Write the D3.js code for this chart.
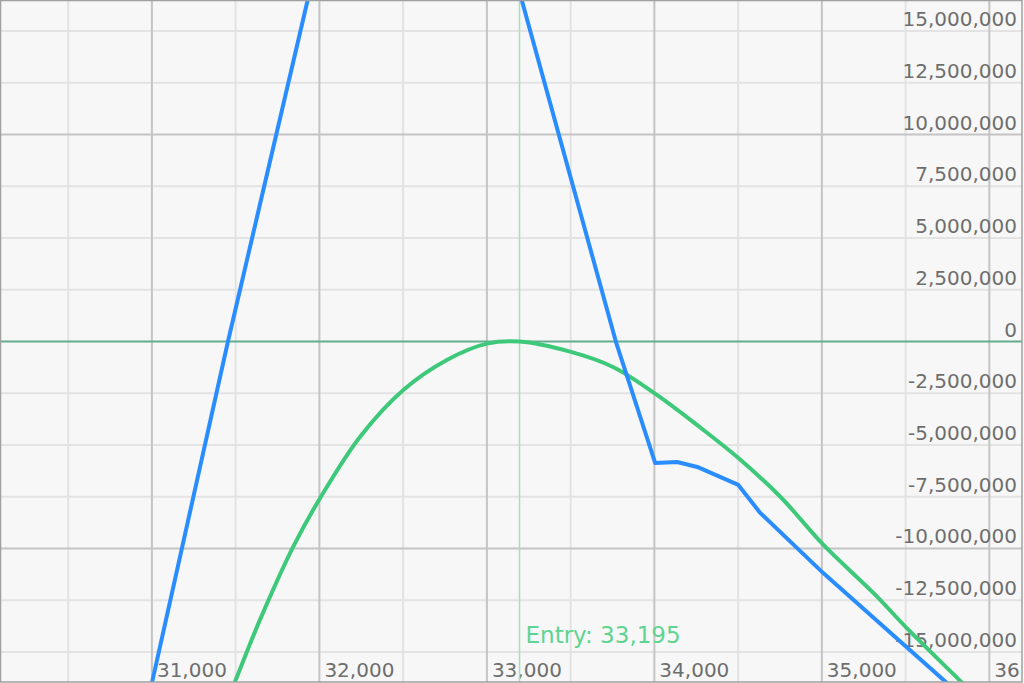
<!DOCTYPE html>
<html>
<head>
<meta charset="utf-8">
<script src="https://cdn.jsdelivr.net/npm/d3@7/dist/d3.min.js"></script>
<style>
  html, body { margin: 0; padding: 0; background: #f7f7f7; }
  svg { display: block; }
</style>
</head>
<body>
<svg id="chart" width="1024" height="683"></svg>
<script>
// ---- data ----
const xTickValues = [31000, 32000, 33000, 34000, 35000, 36000];
const xTickLabels = ["31,000", "32,000", "33,000", "34,000", "35,000", "36"];
const xMinorValues = [30500, 31500, 32500, 33500, 34500, 35500];
const yTickValues = [15000000, 12500000, 10000000, 7500000, 5000000, 2500000, 0,
  -2500000, -5000000, -7500000, -10000000, -12500000, -15000000];
const yTickLabels = ["15,000,000", "12,500,000", "10,000,000", "7,500,000", "5,000,000",
  "2,500,000", "0", "-2,500,000", "-5,000,000", "-7,500,000", "-10,000,000",
  "-12,500,000", "-15,000,000"];
const yMajorValues = [10000000, -10000000];

// expiry P&L (blue)
const expiryX = [30900, 31000, 31454, 31930, 32460, 33208, 33770, 34005, 34136, 34256, 34501, 34632, 35010, 35747, 36100];
const expiryY = [-20200000, -16500000, 0, 16500000, 36000000, 16500000, 0, -5870000, -5820000, -6060000, -6930000, -8280000, -11200000, -16500000, -19000000];

// current P&L (green)
const currentX = [31400, 31496, 31645, 31844, 32004, 32243, 32501, 32761, 33000, 33195, 33497, 33756, 34015, 34254, 34493, 34752, 35010, 35309, 35509, 35839, 36100];
const currentY = [-18300000, -16430000, -13450000, -9910000, -7570000, -4600000, -2340000, -890000, -100000, 0, -490000, -1240000, -2580000, -4030000, -5570000, -7500000, -9830000, -12160000, -13860000, -16500000, -18600000];

const entryPrice = 33195;
const entryLabel = "Entry: 33,195";

// ---- chart ----
const W = 1022, H = 682;
const svg = d3.select("#chart");
const x = d3.scaleLinear().domain([30093, 36195]).range([0, W]);
const y = d3.scaleLinear().domain([-16450000, 16500000]).range([H, 0]);

svg.append("defs").append("clipPath").attr("id", "clip")
  .append("rect").attr("x", 0).attr("y", 0).attr("width", W).attr("height", H);

const g = svg.append("g").attr("clip-path", "url(#clip)");

g.append("rect").attr("x", 0).attr("y", 0).attr("width", W).attr("height", H).attr("fill", "#f7f7f7");

// minor grid
g.selectAll(".vminor").data(xMinorValues).enter().append("line")
  .attr("x1", d => x(d)).attr("x2", d => x(d)).attr("y1", 0).attr("y2", H)
  .attr("stroke", "#e3e3e3").attr("stroke-width", 2);
g.selectAll(".hminor").data(yTickValues.filter(v => v !== 0 && !yMajorValues.includes(v))).enter().append("line")
  .attr("x1", 0).attr("x2", W).attr("y1", d => y(d)).attr("y2", d => y(d))
  .attr("stroke", "#e3e3e3").attr("stroke-width", 2);
// major grid
g.selectAll(".vmajor").data(xTickValues).enter().append("line")
  .attr("x1", d => x(d)).attr("x2", d => x(d)).attr("y1", 0).attr("y2", H)
  .attr("stroke", "#c4c4c4").attr("stroke-width", 2);
g.selectAll(".hmajor").data(yMajorValues).enter().append("line")
  .attr("x1", 0).attr("x2", W).attr("y1", d => y(d)).attr("y2", d => y(d))
  .attr("stroke", "#c4c4c4").attr("stroke-width", 2);

// y labels
const fontFam = "'DejaVu Sans', Verdana, sans-serif";
g.selectAll(".ylab").data(yTickValues).enter().append("text")
  .attr("x", 1017).attr("y", d => y(d) - 5)
  .attr("text-anchor", "end")
  .attr("font-family", fontFam).attr("font-size", 20)
  .attr("fill", "#6e6e6e")
  .text((d, i) => yTickLabels[i]);

// x labels
g.selectAll(".xlab").data(xTickValues).enter().append("text")
  .attr("x", d => x(d) + 5).attr("y", 677)
  .attr("font-family", fontFam).attr("font-size", 20)
  .attr("fill", "#6e6e6e")
  .text((d, i) => xTickLabels[i]);

// zero line
g.append("line").attr("x1", 0).attr("x2", W).attr("y1", y(0)).attr("y2", y(0))
  .attr("stroke", "#62ad8f").attr("stroke-width", 2);

// entry line
g.append("line").attr("x1", x(entryPrice)).attr("x2", x(entryPrice)).attr("y1", 0).attr("y2", H)
  .attr("stroke", "#9fe2bb").attr("stroke-width", 1.5);

g.append("text").attr("x", x(entryPrice) + 6).attr("y", 643)
  .attr("font-family", fontFam).attr("font-size", 23)
  .attr("fill", "#5fd491")
  .text(entryLabel);

// lines
const line = d3.line().x(d => x(d[0])).y(d => y(d[1]));
const smooth = d3.line().x(d => x(d[0])).y(d => y(d[1])).curve(d3.curveCatmullRom.alpha(0.5));

g.append("path").datum(currentX.map((v, i) => [v, currentY[i]]))
  .attr("d", smooth).attr("fill", "none")
  .attr("stroke", "#3ec97a").attr("stroke-width", 4).attr("stroke-linejoin", "round");

g.append("path").datum(expiryX.map((v, i) => [v, expiryY[i]]))
  .attr("d", line).attr("fill", "none")
  .attr("stroke", "#2a8dff").attr("stroke-width", 4).attr("stroke-linejoin", "round");

// border
svg.append("rect").attr("x", 0.5).attr("y", 0.5).attr("width", W - 0.5).attr("height", H - 0.5)
  .attr("fill", "none").attr("stroke", "#a0a0a0").attr("stroke-width", 1.5);
</script>
</body>
</html>
